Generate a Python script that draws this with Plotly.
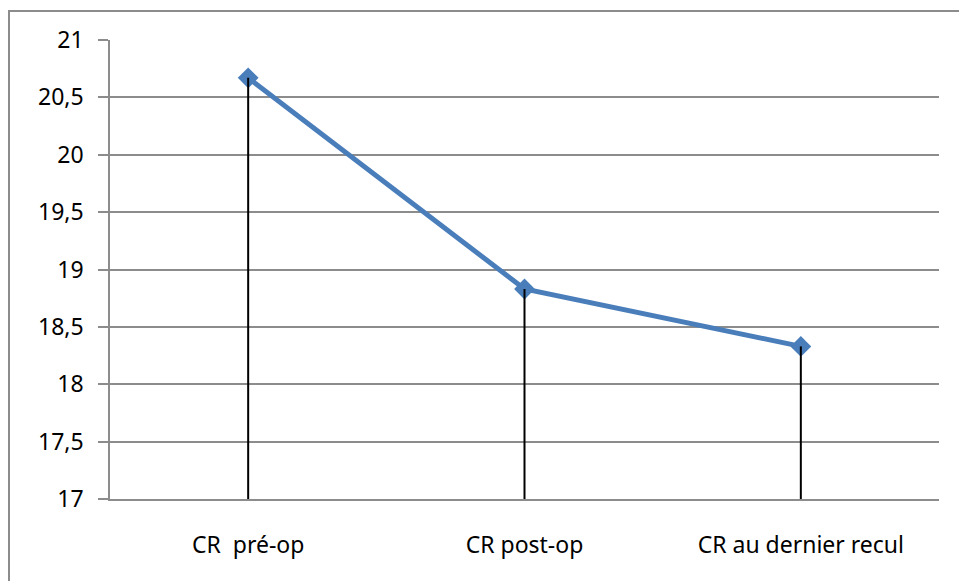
import plotly.graph_objects as go

# Mean CR values at each follow-up stage
categories = ["CR  pré-op", "CR post-op", "CR au dernier recul"]
values = [20.67, 18.83, 18.33]
y_ticks = [17, 17.5, 18, 18.5, 19, 19.5, 20, 20.5, 21]
y_tick_labels = ["17", "17,5", "18", "18,5", "19", "19,5", "20", "20,5", "21"]
y_floor = 17

BLUE = "#4a7ebb"
GRID = "#8c8c8c"
FONT = "Noto Sans"

fig = go.Figure()

fig.add_trace(go.Scatter(
    x=categories, y=values, mode="lines+markers",
    line=dict(color=BLUE, width=5),
    marker=dict(symbol="diamond", size=16, color=BLUE),
    showlegend=False, hoverinfo="skip",
))

# Vertical drop lines from each point down to the axis floor
for cat, val in zip(categories, values):
    fig.add_trace(go.Scatter(
        x=[cat, cat], y=[y_floor, val], mode="lines",
        line=dict(color="black", width=2),
        showlegend=False, hoverinfo="skip",
    ))

W, H = 959, 581
L, R, T, B = 110, 20, 40, 82
pw, ph = W - L - R, H - T - B

def px_x(px):
    return (px - L) / pw

def px_y(py):
    return 1 - (py - T) / ph

# Outer chart border
fig.add_shape(
    type="rect", xref="paper", yref="paper",
    x0=px_x(9), x1=px_x(975), y0=px_y(11), y1=px_y(600),
    line=dict(color=GRID, width=2), fillcolor="rgba(0,0,0,0)", layer="below",
)

fig.update_layout(
    width=W, height=H,
    margin=dict(l=L, r=R, t=T, b=B),
    paper_bgcolor="white", plot_bgcolor="white",
    font=dict(family=FONT, size=23, color="black"),
    xaxis=dict(
        type="category", range=[-0.5, 2.5],
        showgrid=False, showline=True, linecolor=GRID, linewidth=2,
        ticks="", ticklabelstandoff=24, zeroline=False,
    ),
    yaxis=dict(
        range=[17, 21], tickvals=y_ticks, ticktext=y_tick_labels,
        showgrid=True, gridcolor=GRID, gridwidth=1.5,
        showline=True, linecolor=GRID, linewidth=1.5,
        ticks="outside", ticklen=10, tickcolor=GRID, tickwidth=1.5,
        ticklabelstandoff=10, zeroline=False,
    ),
)

fig.write_html("out.html")
